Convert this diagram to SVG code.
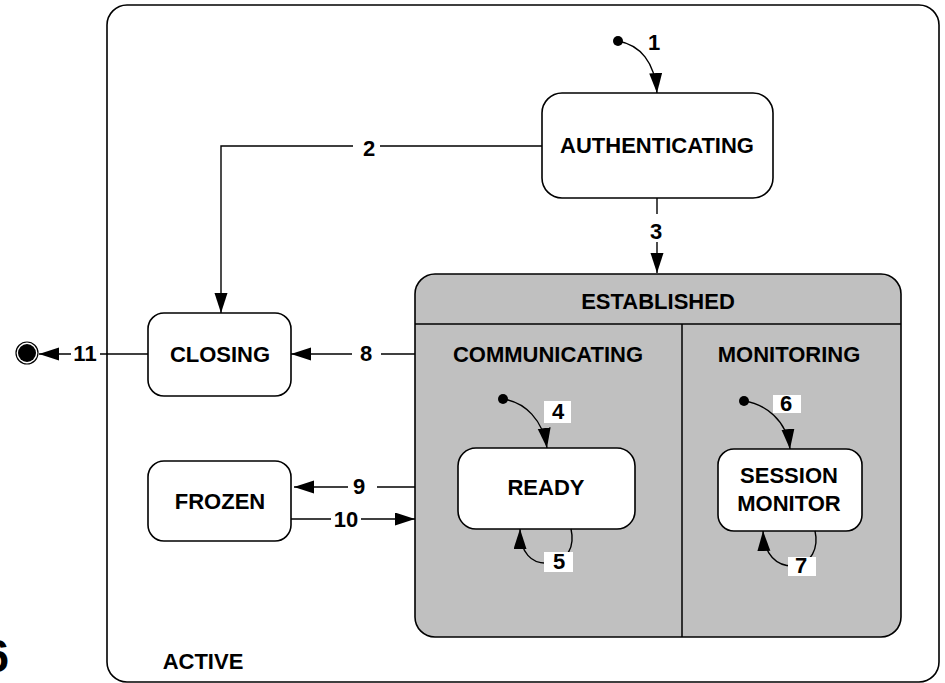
<svg xmlns="http://www.w3.org/2000/svg" width="945" height="683" viewBox="0 0 945 683">
  <defs>
    <marker id="arrow" markerUnits="userSpaceOnUse" markerWidth="21" markerHeight="14" refX="20" refY="6.5" orient="auto">
      <path d="M0,0 L20,6.5 L0,13 Z" fill="#000"/>
    </marker>
    <style>
      .state { fill: #fff; stroke: #000; stroke-width: 1.6; }
      .composite { fill: #c0c0c0; stroke: #000; stroke-width: 1.6; }
      .sep { stroke: #000; stroke-width: 1.5; fill: none; }
      .edge { fill: none; stroke: #000; stroke-width: 1.4; }
      .arrowed { marker-end: url(#arrow); }
      .lbl { font-family: "Liberation Sans", Arial, sans-serif; font-weight: bold; font-size: 22px; text-anchor: middle; fill: #000; }
      .num { font-family: "Liberation Sans", Arial, sans-serif; font-weight: bold; font-size: 22px; text-anchor: middle; fill: #000; }
      .tag { fill: #fff; stroke: none; }
      .dot { fill: #000; }
    </style>
  </defs>

  <!-- outer composite state -->
  <g id="active">
    <rect x="107" y="5" width="832" height="677" rx="20" class="state"/>
    <text x="203" y="669" class="lbl">ACTIVE</text>
  </g>

  <text x="9" y="672" font-family="Liberation Sans, Arial, sans-serif" font-weight="bold" font-size="46" text-anchor="end">6</text>

  <!-- ESTABLISHED with two orthogonal regions -->
  <g id="established">
    <rect x="415" y="274" width="486" height="363" rx="20" class="composite"/>
    <line x1="415" y1="324" x2="901" y2="324" class="sep"/>
    <line x1="682" y1="324" x2="682" y2="637" class="sep"/>
    <text x="658" y="309" class="lbl">ESTABLISHED</text>
    <text x="548" y="362" class="lbl">COMMUNICATING</text>
    <text x="789" y="362" class="lbl">MONITORING</text>
  </g>

  <g id="authenticating">
    <rect x="542" y="93" width="231" height="105" rx="20" class="state"/>
    <text x="657" y="153" class="lbl">AUTHENTICATING</text>
  </g>

  <g id="closing">
    <rect x="148" y="313" width="143" height="83" rx="16" class="state"/>
    <text x="220" y="362" class="lbl">CLOSING</text>
  </g>

  <g id="frozen">
    <rect x="148" y="461" width="143" height="80" rx="16" class="state"/>
    <text x="220" y="509" class="lbl">FROZEN</text>
  </g>

  <g id="ready">
    <rect x="458" y="448" width="177" height="81" rx="18" class="state"/>
    <text x="546" y="495" class="lbl">READY</text>
  </g>

  <g id="session-monitor">
    <rect x="718" y="449" width="144" height="82" rx="16" class="state"/>
    <text x="789" y="483" class="lbl">SESSION</text>
    <text x="789" y="511" class="lbl">MONITOR</text>
  </g>

  <g id="initial-top"><circle cx="618" cy="41" r="5" class="dot"/></g>
  <g id="initial-communicating"><circle cx="503" cy="399" r="5" class="dot"/></g>
  <g id="initial-monitoring"><circle cx="744" cy="401" r="5" class="dot"/></g>
  <g id="final">
    <circle cx="27" cy="353" r="11" fill="none" stroke="#000" stroke-width="1.2"/>
    <circle cx="27" cy="353" r="9" class="dot"/>
  </g>

  <!-- transitions -->
  <g id="connectors">
    <path d="M618,41 C640,45 655,62 657,93" class="edge arrowed"/>
    <text x="654" y="50" class="num">1</text>

    <path d="M542,146 H221 V313" class="edge arrowed"/>
    <rect x="353" y="136" width="27" height="22" class="tag"/>
    <text x="369" y="156" class="num">2</text>

    <path d="M657,198 V273" class="edge arrowed"/>
    <rect x="646" y="214" width="22" height="28" class="tag"/>
    <text x="656" y="239" class="num">3</text>

    <path d="M415,354 H291" class="edge arrowed"/>
    <rect x="352" y="343" width="29" height="22" class="tag"/>
    <text x="366" y="361" class="num">8</text>

    <path d="M415,487 H294" class="edge arrowed"/>
    <rect x="348" y="476" width="29" height="22" class="tag"/>
    <text x="359" y="494" class="num">9</text>

    <path d="M291,519 H415" class="edge arrowed"/>
    <rect x="331" y="508" width="30" height="22" class="tag"/>
    <text x="346" y="527" class="num">10</text>

    <path d="M148,354 H39" class="edge arrowed"/>
    <rect x="71" y="342" width="29" height="22" class="tag"/>
    <text x="85" y="361" class="num">11</text>

    <path d="M503,399 C525,402 543,420 547,448" class="edge arrowed"/>
    <rect x="544" y="401" width="27" height="22" class="tag"/>
    <text x="558" y="419" class="num">4</text>

    <path d="M571,529 C575,546 568,561 550,563 C531,565 520,552 520,529" class="edge arrowed"/>
    <rect x="544" y="552" width="29" height="20" class="tag"/>
    <text x="559" y="569" class="num">5</text>

    <path d="M744,401 C765,404 787,420 790,449" class="edge arrowed"/>
    <rect x="773" y="395" width="28" height="18" class="tag"/>
    <text x="786" y="411" class="num">6</text>

    <path d="M815,531 C819,548 811,564 795,566 C776,567 764,554 763,531" class="edge arrowed"/>
    <rect x="788" y="557" width="28" height="19" class="tag"/>
    <text x="801" y="573" class="num">7</text>
  </g>
</svg>
